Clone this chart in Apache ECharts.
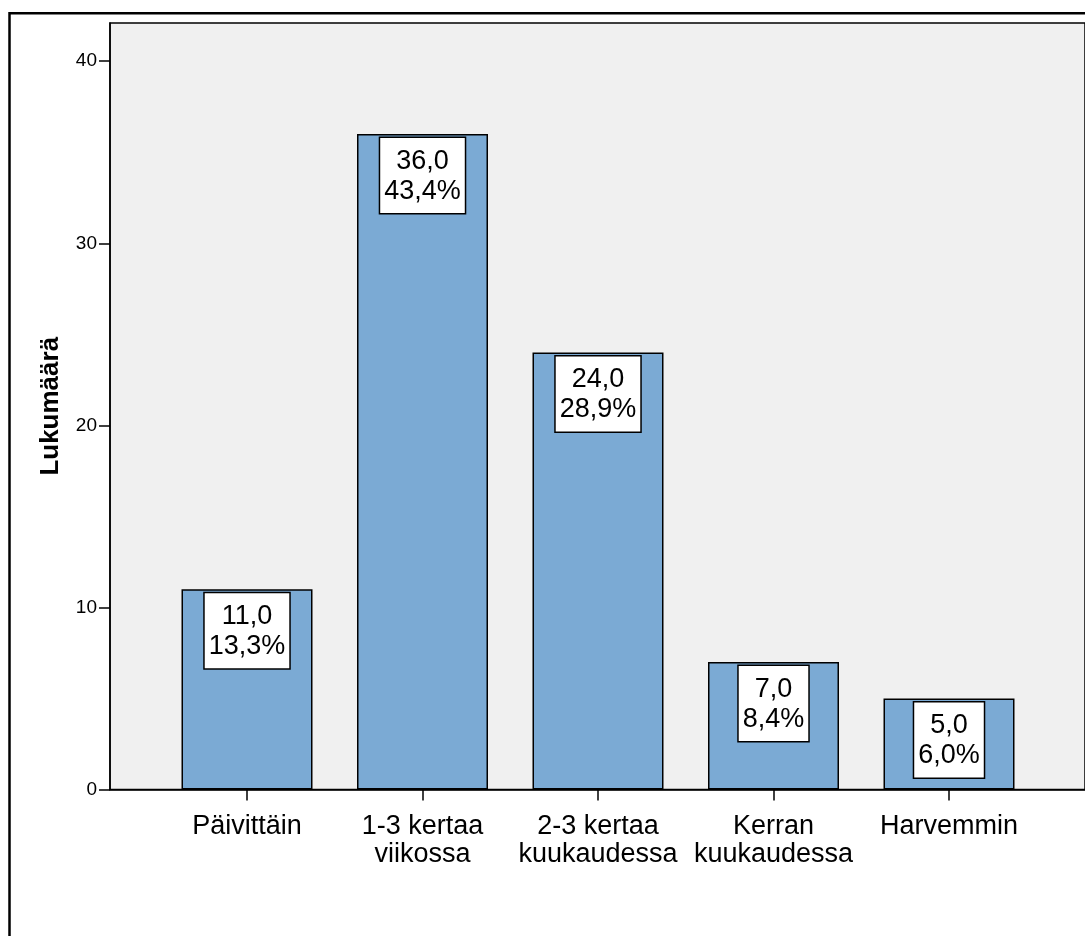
<!DOCTYPE html>
<html>
<head>
<meta charset="utf-8">
<script src="https://cdn.jsdelivr.net/npm/echarts@6/dist/echarts.min.js"></script>
<style>
  html, body { margin: 0; padding: 0; background: #ffffff; }
  #chart { width: 1085px; height: 936px; }
</style>
</head>
<body>
<div id="chart"></div>
<script>
// Vastaukset: kuinka usein (lukumäärä ja osuus)
const categories = ['Päivittäin', '1-3 kertaa\nviikossa', '2-3 kertaa\nkuukaudessa', 'Kerran\nkuukaudessa', 'Harvemmin'];
const counts = [11, 36, 24, 7, 5];
const percents = [13.3, 43.4, 28.9, 8.4, 6.0];
const yTicks = [0, 10, 20, 30, 40];

const FONT = '"Liberation Sans", Arial, sans-serif';
const fmt = (v) => v.toFixed(1).replace('.', ',');

const Y_MAX = 42.1;

const chart = echarts.init(document.getElementById('chart'), null, { renderer: 'canvas' });

chart.setOption({
  animation: false,
  backgroundColor: '#ffffff',
  textStyle: { fontFamily: FONT },
  graphic: [
    {
      type: 'rect',
      z: 100,
      silent: true,
      shape: { x: 9.5, y: 13.3, width: 1200, height: 1200 },
      style: { fill: 'none', stroke: '#000000', lineWidth: 2.5 }
    }
  ],
  grid: [
    // plot frame with the grey background and the count axis
    {
      left: 110, top: 23, width: 976, height: 766.5,
      show: true, backgroundColor: '#f0f0f0',
      borderColor: '#000000', borderWidth: 1.5
    },
    // bars
    {
      left: 159.25, top: 23, width: 877.5, height: 766.5
    }
  ],
  xAxis: [
    {
      gridIndex: 0, type: 'value', min: 0, max: 1,
      axisLine: { show: true, onZero: false, lineStyle: { color: '#000000', width: 1.5 } },
      axisTick: { show: false }, axisLabel: { show: false }, splitLine: { show: false }
    },
    {
      gridIndex: 1, type: 'category', data: categories,
      axisLine: { show: false },
      axisTick: { show: true, alignWithLabel: true, length: 11, lineStyle: { color: '#000000', width: 1.5 } },
      axisLabel: {
        margin: 23, fontSize: 27, lineHeight: 28, color: '#000000',
        fontFamily: FONT, interval: 0
      },
      splitLine: { show: false }
    }
  ],
  yAxis: [
    {
      gridIndex: 0, type: 'value', min: 0, max: Y_MAX,
      name: 'Lukumäärä', nameLocation: 'middle', nameGap: 46, nameRotate: 90,
      nameTextStyle: { fontSize: 26, fontWeight: 'bold', color: '#000000', fontFamily: FONT },
      axisLine: { show: true, lineStyle: { color: '#000000', width: 1.5 } },
      axisTick: {
        show: true, length: 11, customValues: yTicks,
        lineStyle: { color: '#000000', width: 1.5 }
      },
      axisLabel: {
        margin: 13, fontSize: 19, color: '#000000', fontFamily: FONT,
        customValues: yTicks
      },
      splitLine: { show: false }
    },
    {
      gridIndex: 1, type: 'value', min: 0, max: Y_MAX, show: false
    }
  ],
  series: [
    {
      type: 'bar',
      xAxisIndex: 1, yAxisIndex: 1,
      data: counts,
      barWidth: 131,
      itemStyle: { color: '#7baad4', borderColor: '#000000', borderWidth: 1.5 },
      label: {
        show: true,
        position: 'insideTop',
        distance: 4,
        formatter: (p) => fmt(p.value) + '\n' + fmt(percents[p.dataIndex]) + '%',
        fontSize: 27, lineHeight: 30, color: '#000000', fontFamily: FONT,
        align: 'center',
        backgroundColor: '#ffffff', borderColor: '#000000', borderWidth: 1.5,
        padding: [8, 4, 7, 4]
      }
    }
  ]
});
</script>
</body>
</html>
